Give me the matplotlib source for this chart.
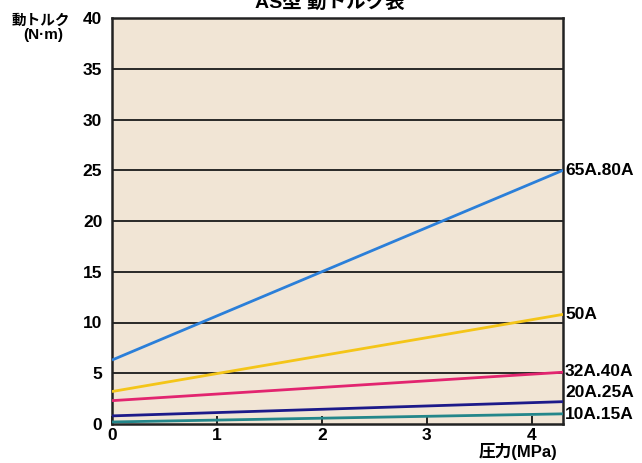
import numpy as np
import matplotlib
matplotlib.use('Agg')
from matplotlib import pyplot as plt

plt.rcParams['font.family'] = ['Liberation Sans', 'Noto Sans CJK JP', 'DejaVu Sans']
plt.rcParams['font.weight'] = 'bold'

# data (straight lines, values at 0 and 4.3 MPa)
pressure = [0, 4.3]
sizes = ['65A.80A', '50A', '32A.40A', '20A.25A', '10A.15A']
torque_65_80 = [6.3, 25.0]
torque_50 = [3.2, 10.8]
torque_32_40 = [2.3, 5.1]
torque_20_25 = [0.8, 2.2]
torque_10_15 = [0.2, 1.0]
series = [torque_65_80, torque_50, torque_32_40, torque_20_25, torque_10_15]
colors = ['#2b7fd9', '#f4c518', '#e2246f', '#1c1a8a', '#23868a']
label_y = [25.0, 10.8, 5.2, 3.1, 0.9]

fig = plt.figure(figsize=(6.42, 4.63), dpi=100)
ax = fig.add_axes([112/642, 39/463, 451/642, 406/463])
ax.set_facecolor('#f1e5d5')

for y in range(5, 40, 5):
    ax.axhline(y, color='#1a1a1a', lw=1.3, zorder=1)

for vals, c in zip(series, colors):
    ax.plot(pressure, vals, color=c, lw=2.0, zorder=3, solid_capstyle='butt')

for name, ly in zip(sizes, label_y):
    ax.text(4.32, ly, name, fontsize=12.5, fontweight='bold', va='center', ha='left',
            clip_on=False)

ax.set_xlim(0, 4.3)
ax.set_ylim(0, 40)
ax.set_xticks([0, 1, 2, 3, 4])
ax.set_yticks(range(0, 45, 5))
ax.tick_params(axis='x', direction='in', length=6, width=1.2, pad=3, labelsize=12.5)
ax.tick_params(axis='y', length=0, pad=7, labelsize=12.5)
for lab in ax.get_xticklabels() + ax.get_yticklabels():
    lab.set_fontweight('bold')
for sp in ax.spines.values():
    sp.set_linewidth(1.8)
    sp.set_color('#222222')

fig.text(41/642, 1 - 20/463, '動トルク', family='Noto Sans CJK JP', fontsize=10.5,
         fontweight='bold', ha='center', va='center')
fig.text(43/642, 1 - 35/463, '(N·m)', fontsize=11, fontweight='bold', ha='center', va='center')
fig.text(518/642, 1 - 452/463, '圧力(MPa)', fontsize=12, fontweight='bold', ha='center', va='center')
fig.text(330/642, 1 - 8/463, 'AS型 動トルク表', fontsize=14, fontweight='bold', ha='center', va='baseline')

plt.savefig('out.png', dpi=100)
plt.close()
